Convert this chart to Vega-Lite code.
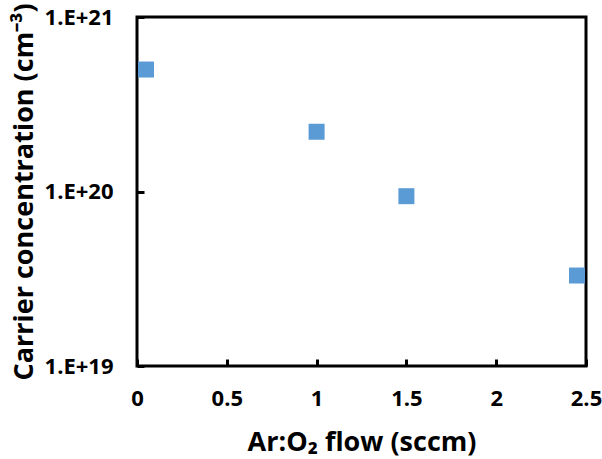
{
  "$schema": "https://vega.github.io/schema/vega-lite/v6.json",
  "width": 449,
  "height": 349,
  "autosize": {"type": "none"},
  "padding": {"left": 137, "top": 17, "right": 16, "bottom": 93},
  "background": "white",
  "config": {
    "view": {"stroke": "black", "strokeWidth": 3},
    "font": "Open Sans",
    "axis": {
      "domain": false,
      "grid": false,
      "labelFont": "Open Sans",
      "labelFontWeight": "bold",
      "labelFontSize": 22,
      "labelColor": "#000000",
      "titleFont": "Open Sans",
      "titleFontWeight": "bold",
      "titleFontSize": 27,
      "titleColor": "#000000",
      "tickColor": "black",
      "tickWidth": 3,
      "tickSize": 7,
      "offset": -7
    }
  },
  "data": {
    "values": [
      {"flow": 0.05, "conc": 5.0e20},
      {"flow": 1.0, "conc": 2.2e20},
      {"flow": 1.5, "conc": 9.4e19},
      {"flow": 2.45, "conc": 3.3e19}
    ]
  },
  "mark": {"type": "square", "size": 256, "color": "#5B9BD5", "opacity": 1},
  "encoding": {
    "x": {
      "field": "flow",
      "type": "quantitative",
      "scale": {"domain": [0, 2.5], "nice": false},
      "axis": {
        "values": [0, 0.5, 1, 1.5, 2, 2.5],
        "format": "~g",
        "labelPadding": 22,
        "title": "Ar:O₂ flow (sccm)",
        "titlePadding": 20,
        "labelFlush": false
      }
    },
    "y": {
      "field": "conc",
      "type": "quantitative",
      "scale": {"type": "log", "domain": [1e19, 1e21], "nice": false},
      "axis": {
        "values": [1e19, 1e20, 1e21],
        "labelExpr": "'1.E+' + format(log(datum.value)/log(10), '.0f')",
        "labelPadding": 24,
        "title": "Carrier concentration (cm⁻³)",
        "titlePadding": 6,
        "labelFlush": false
      }
    }
  }
}
